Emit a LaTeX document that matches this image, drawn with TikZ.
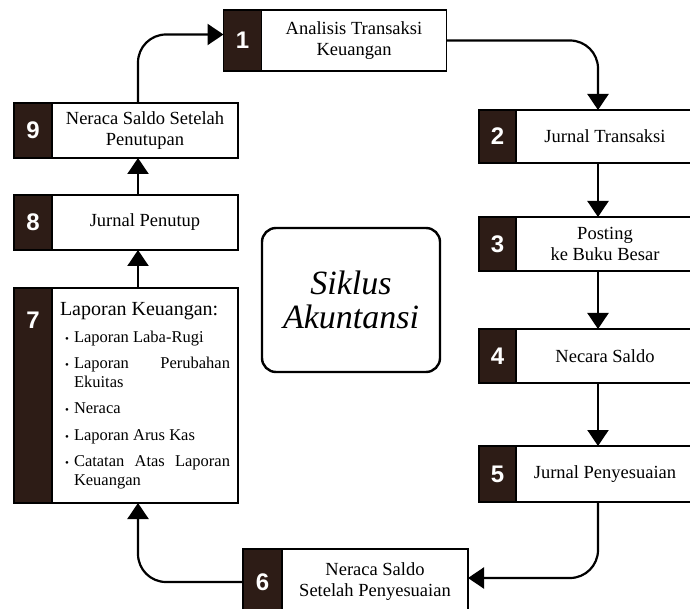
\documentclass[tikz,border=0pt]{standalone}
\usepackage{fontspec}
\usepackage{enumitem}
\setmainfont{Liberation Serif}
\newfontfamily\numfont{Liberation Sans}
\usetikzlibrary{arrows.meta,positioning}
\definecolor{numfill}{RGB}{45,28,22}
\tikzset{
  numtext/.style={inner sep=0pt, text=white, font=\numfont\bfseries\fontsize{24}{24}\selectfont},
  numbox/.style={numtext, draw, fill=numfill, line width=1.2pt, outer sep=0pt, minimum width=38pt},
  stepbox/.style={draw, fill=white, line width=1.2pt, outer sep=0pt, inner sep=2pt, align=center,
    font=\fontsize{18.5}{21}\selectfont},
  hubbox/.style={draw, line width=2.4pt, rounded corners=14pt, align=center,
    minimum width=178pt, minimum height=144pt, font=\itshape\fontsize{34}{34}\selectfont},
  flow/.style={line width=2.2pt, -{Triangle[width=21pt,length=16pt]}},
}
\begin{document}
\begin{tikzpicture}[x=1pt,y=-1pt]
    \clip (0,0) rectangle (690,609);
    %% steps, right column
    \node[numbox, minimum height=61pt] (n1) at (242.5,40.5) {1};
    \node[stepbox, minimum width=185pt, minimum height=61pt, right=0pt of n1] (b1) {Analisis Transaksi\\Keuangan};
    \node[numbox, minimum width=37pt, minimum height=53pt] (n2) at (497.5,136.5) {2};
    \node[stepbox, minimum width=178pt, minimum height=53pt, right=0pt of n2] (b2) {Jurnal Transaksi};
    \node[numbox, minimum width=37pt, minimum height=54pt] (n3) at (497.5,244) {3};
    \node[stepbox, minimum width=178pt, minimum height=54pt, right=0pt of n3] (b3) {Posting\\ke Buku Besar};
    \node[numbox, minimum width=37pt, minimum height=54pt] (n4) at (497.5,356) {4};
    \node[stepbox, minimum width=178pt, minimum height=54pt, right=0pt of n4] (b4) {Necara Saldo};
    \node[numbox, minimum width=37pt, minimum height=56pt] (n5) at (497.5,474) {5};
    \node[stepbox, minimum width=178pt, minimum height=56pt, right=0pt of n5] (b5) {Jurnal Penyesuaian};
    %% bottom
    \node[numbox, minimum width=39pt, minimum height=66pt] (n6) at (262.5,582) {6};
    \node[stepbox, minimum width=186pt, minimum height=66pt, right=0pt of n6] (b6) {Neraca Saldo\\Setelah Penyesuaian};
    %% left column
    \node[numbox, minimum height=215pt] (n7) at (33,395.5) {};
    \node[numtext, below=24pt of n7.north] (t7) {7};
    \node[stepbox, minimum width=186pt, minimum height=215pt, right=0pt of n7,
      text width=170pt, align=justify] (b7) {{\fontsize{20}{21}\selectfont Laporan Keuangan:}\par
      {\fontsize{16.5}{18.5}\selectfont
      \begin{itemize}[label={\fontsize{11}{11}\selectfont\textbullet}, leftmargin=14pt, labelsep=5pt,
        itemsep=8pt, parsep=0pt, topsep=8pt, partopsep=0pt]
        \item Laporan Laba-Rugi
        \item Laporan Perubahan Ekuitas
        \item Neraca
        \item Laporan Arus Kas
        \item Catatan Atas Laporan Keuangan
      \end{itemize}}};
    \node[numbox, minimum height=55pt] (n8) at (33,222.5) {8};
    \node[stepbox, minimum width=186pt, minimum height=55pt, right=0pt of n8] (b8) {Jurnal Penutup};
    \node[numbox, minimum height=55pt] (n9) at (33,130.5) {9};
    \node[stepbox, minimum width=186pt, minimum height=55pt, right=0pt of n9] (b9) {Neraca Saldo Setelah\\Penutupan};
    %% centre
    \node[hubbox] (hub) at (351,300) {Siklus\\Akuntansi};
    %% cycle
    \coordinate (lc) at (138,0);
    \coordinate (rc) at (598,0);
    \draw[flow, rounded corners=28pt] (lc |- b9.north) |- ([yshift=6pt]n1.west);
    \draw[flow, rounded corners=28pt] (b1.east) -| (rc |- b2.north);
    \draw[flow] (rc |- b2.south) -- (rc |- b3.north);
    \draw[flow] (rc |- b3.south) -- (rc |- b4.north);
    \draw[flow] (rc |- b4.south) -- (rc |- b5.north);
    \draw[flow, rounded corners=28pt] (rc |- b5.south) |- ([yshift=4pt]b6.east);
    \draw[flow, rounded corners=28pt] (n6.west) -| (lc |- b7.south);
    \draw[flow] (lc |- b7.north) -- (lc |- b8.south);
    \draw[flow] (lc |- b8.north) -- (lc |- b9.south);
\end{tikzpicture}
\end{document}
